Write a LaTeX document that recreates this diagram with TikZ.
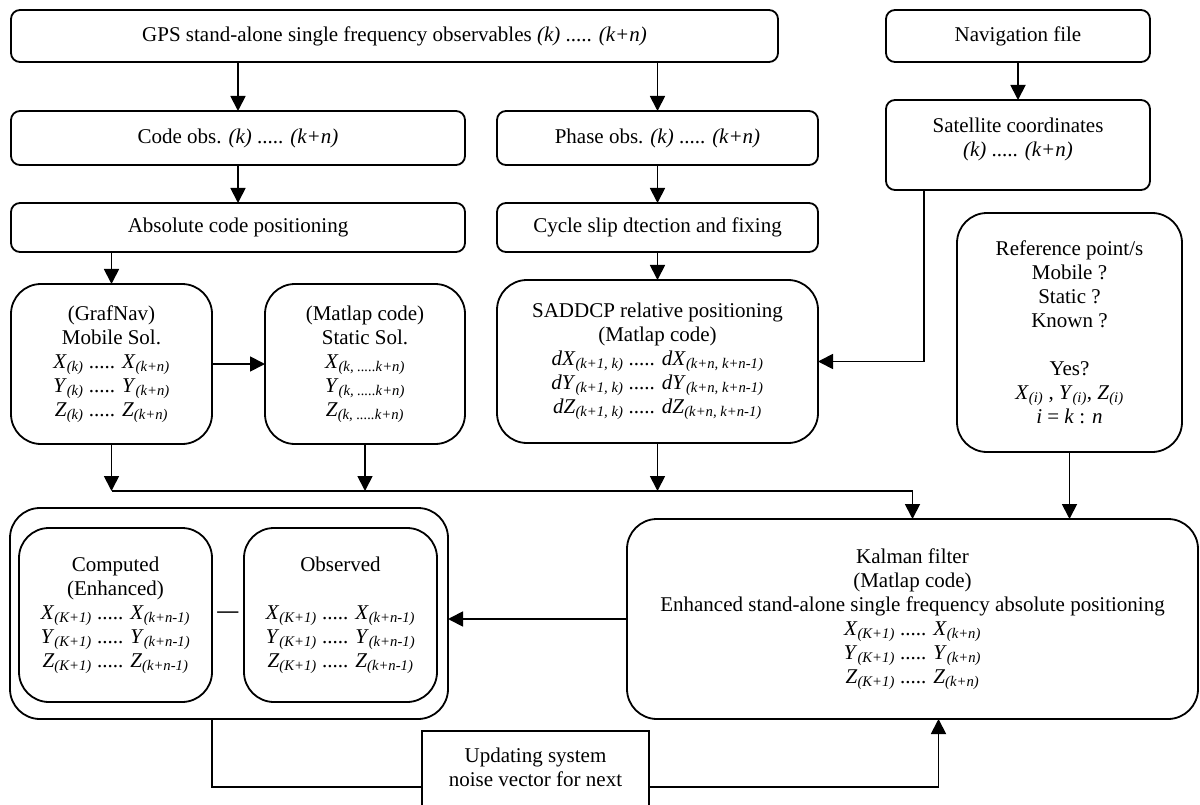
\documentclass[tikz,border=0pt]{standalone}
\usepackage{fontspec}
\setmainfont{Liberation Serif}
\usetikzlibrary{arrows.meta, positioning, calc}
\newcommand{\lo}[1]{\textsubscript{\itshape #1}}
\tikzset{
    font=\fontsize{21pt}{24pt}\selectfont,
    >={Triangle[length=15pt,width=15pt]},
    % Shapes
    box/.style={rectangle, draw, line width=1.8pt, rounded corners=9pt,
                align=center, inner sep=2pt, outer sep=0pt},
    bigbox/.style={box, rounded corners=30pt},
    plain/.style={box, rounded corners=0pt},
    % Flow
    flow/.style={->, line width=1.8pt},
    link/.style={line width=1.8pt}
}

\begin{document}
\begin{tikzpicture}[x=1pt, y=-1pt]
\useasboundingbox (0,0) rectangle (1200,805);

\node[box, minimum width=767pt, minimum height=52pt, anchor=north west] (gps) at (11,10)
    {GPS stand-alone single frequency observables \textit{(k)} ..... \textit{(k+n)}};
\node[box, minimum width=264pt, minimum height=52pt, right=108pt of gps] (nav) {Navigation file};
\node[box, minimum width=454pt, minimum height=54pt, below right=49pt and 0pt of gps.south west] (code)
    {Code obs. \textit{(k)} ..... \textit{(k+n)}};
\node[box, minimum width=321pt, minimum height=54pt, right=32pt of code] (phase)
    {Phase obs. \textit{(k)} ..... \textit{(k+n)}};
\node[box, minimum width=264pt, minimum height=90pt, below=38pt of nav] (sat)
    {Satellite coordinates\\\textit{(k)} ..... \textit{(k+n)}\\[-8pt]\mbox{}};
\node[box, minimum width=454pt, minimum height=49pt, below right=38pt and 0pt of code.south west] (abs)
    {Absolute code positioning};
\node[box, minimum width=321pt, minimum height=49pt, right=32pt of abs] (slip)
    {Cycle slip dtection and fixing};

\node[bigbox, minimum width=201pt, minimum height=160pt, below right=32pt and 0pt of abs.south west] (mob)
    {(GrafNav)\\Mobile Sol.\\
     \textit{X}\lo{(k)} ..... \textit{X}\lo{(k+n)}\\
     \textit{Y}\lo{(k)} ..... \textit{Y}\lo{(k+n)}\\
     \textit{Z}\lo{(k)} ..... \textit{Z}\lo{(k+n)}};
\node[bigbox, minimum width=200pt, minimum height=160pt, right=53pt of mob] (stat)
    {(Matlap code)\\Static Sol.\\
     \textit{X}\lo{(k, .....k+n)}\\
     \textit{Y}\lo{(k, .....k+n)}\\
     \textit{Z}\lo{(k, .....k+n)}};
\node[bigbox, minimum width=321pt, minimum height=163pt, below=28pt of slip] (rel)
    {SADDCP relative positioning\\(Matlap code)\\
     \textit{dX}\lo{(k+1, k)} ..... \textit{dX}\lo{(k+n, k+n-1)}\\
     \textit{dY}\lo{(k+1, k)} ..... \textit{dY}\lo{(k+n, k+n-1)}\\
     \textit{dZ}\lo{(k+1, k)} ..... \textit{dZ}\lo{(k+n, k+n-1)}};
\node[bigbox, minimum width=225pt, minimum height=239pt, below right=23pt and 71pt of sat.south west] (ref)
    {Reference point/s\\Mobile ?\\Static ?\\Known ?\\ \mbox{}\\Yes?\\
     \textit{X}\lo{(i)} , \textit{Y}\lo{(i)}, \textit{Z}\lo{(i)}\\
     \textit{i} = \textit{k} : \textit{n}};

\node[bigbox, minimum width=438pt, minimum height=211pt, below right=64pt and -1pt of mob.south west] (grp) {};
\node[bigbox, minimum width=193pt, minimum height=174pt, below right=20pt and 9pt of grp.north west] (comp)
    {Computed\\(Enhanced)\\
     \textit{X}\lo{(K+1)} ..... \textit{X}\lo{(k+n-1)}\\
     \textit{Y}\lo{(K+1)} ..... \textit{Y}\lo{(k+n-1)}\\
     \textit{Z}\lo{(K+1)} ..... \textit{Z}\lo{(k+n-1)}};
\node[bigbox, minimum width=193pt, minimum height=174pt, right=32pt of comp] (obsd)
    {Observed\\ \mbox{}\\
     \textit{X}\lo{(K+1)} ..... \textit{X}\lo{(k+n-1)}\\
     \textit{Y}\lo{(K+1)} ..... \textit{Y}\lo{(k+n-1)}\\
     \textit{Z}\lo{(K+1)} ..... \textit{Z}\lo{(k+n-1)}};
\node (minus) at ($(comp.east)!0.5!(obsd.west)$) {\textbf{—}};

\node[bigbox, minimum width=571pt, minimum height=200pt, below right=76pt and 130pt of rel.south west] (kal)
    {Kalman filter\\(Matlap code)\\
     Enhanced stand-alone single frequency absolute positioning\\
     \textit{X}\lo{(K+1)} ..... \textit{X}\lo{(k+n)}\\
     \textit{Y}\lo{(K+1)} ..... \textit{Y}\lo{(k+n)}\\
     \textit{Z}\lo{(K+1)} ..... \textit{Z}\lo{(k+n)}};
\node[plain, minimum width=227pt, minimum height=96pt, below right=12pt and -26pt of grp.south east] (upd)
    {Updating system\\noise vector for next\\ \mbox{}};

\draw[flow] (gps.south -| code.north) -- (code.north);
\draw[flow] (gps.south -| phase.north) -- (phase.north);
\draw[flow] (nav) -- (sat);
\draw[flow] (code) -- (abs);
\draw[flow] (phase) -- (slip);
\draw[flow] (slip) -- (rel);
\draw[flow] (abs.south -| mob.north) -- (mob.north);
\draw[flow] (mob) -- (stat);
\draw[flow] ([xshift=38pt]sat.south west) |- (rel.east);

\coordinate (bus) at (mob.south |- 0,491);
\draw[flow] (mob) -- (mob.south |- bus);
\draw[flow] (stat) -- (stat.south |- bus);
\draw[flow] (rel) -- (rel.south |- bus);
\draw[flow] (bus) -| (kal.north);
\draw[flow] (ref) -- (ref.south |- kal.north);
\draw[flow] (kal.west) -- (kal.west -| grp.east);

\draw[link] (comp.east |- grp.south) |- ([yshift=-8pt]upd.west);
\draw[flow] ([yshift=-8pt]upd.east) -| ([xshift=26pt]kal.south);

\end{tikzpicture}
\end{document}
